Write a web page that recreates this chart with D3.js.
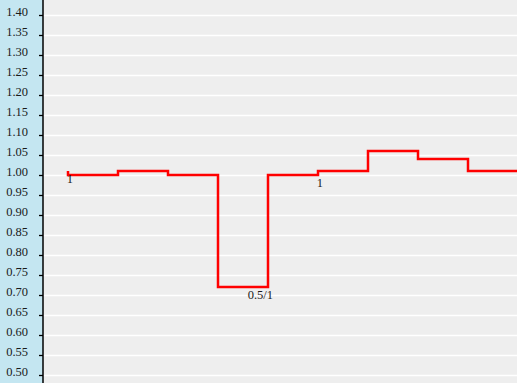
<!DOCTYPE html>
<html><head><meta charset="utf-8">
<script src="https://cdn.jsdelivr.net/npm/d3@7"></script>
<style>html,body{margin:0;padding:0;background:#eeeeee;}svg{display:block;}</style>
</head><body>
<svg id="c" width="517" height="383"></svg>
<script>
// data
const stepIndex = [0, 1, 2, 3, 4, 5, 6, 7, 8, 9];
const stepValues = [1.00, 1.01, 1.00, 0.72, 1.00, 1.01, 1.06, 1.04, 1.01, 1.01];
const startLevel = 1.01;
const yTicks = [0.50,0.55,0.60,0.65,0.70,0.75,0.80,0.85,0.90,0.95,1.00,1.05,1.10,1.15,1.20,1.25,1.30,1.35,1.40];
// labels placed at the step boundary i, under the level reached just before it
const pointLabels = [
  {i: 0, text: "1"},
  {i: 4, text: "0.5/1"},
  {i: 5, text: "1"}
];

const W = 517, H = 383;
const svg = d3.select("#c");
const axisX = 43;
const x = d3.scaleLinear().domain([0, 9]).range([68, 518]);
const y = d3.scaleLinear().domain([0.5, 1.4]).range([375, 15]);
const prevLevel = i => i === 0 ? startLevel : stepValues[i - 1];

svg.append("rect").attr("x",0).attr("y",0).attr("width",W).attr("height",H).attr("fill","#eeeeee");
svg.append("rect").attr("x",0).attr("y",0).attr("width",axisX).attr("height",H).attr("fill","#c4e6f1");

// grid
svg.append("g").selectAll("line").data(yTicks).join("line")
  .attr("x1", axisX).attr("x2", W)
  .attr("y1", d => Math.round(y(d)) + 0.5).attr("y2", d => Math.round(y(d)) + 0.5)
  .attr("stroke", "#ffffff").attr("stroke-width", 1.3);

// axis
const ax = d3.axisLeft(y).tickValues(yTicks).tickSize(4).tickPadding(11).tickFormat(d3.format(".2f"));
const g = svg.append("g").attr("transform", `translate(${axisX},0)`).call(ax);
g.select(".domain").remove();
g.selectAll(".tick line").attr("stroke", "#000").attr("stroke-width", 1.3);
g.selectAll(".tick text").attr("font-family", "'Liberation Serif','Times New Roman',serif")
  .attr("font-size", 12.5).attr("fill", "#1a1a1a").attr("dy", "0.05em");
svg.append("line").attr("x1", axisX).attr("x2", axisX).attr("y1", 0).attr("y2", H)
  .attr("stroke", "#000").attr("stroke-width", 1.5);

// step line
const pts = stepIndex.map((d, k) => [x(d), y(stepValues[k])]);
const line = d3.line().curve(d3.curveStepAfter);
const path = [[x(0), y(startLevel)]].concat(pts);
svg.append("path").attr("d", line(path)).attr("fill", "none")
  .attr("stroke", "#ff0000").attr("stroke-width", 2.5);

// labels
svg.append("g").selectAll("text").data(pointLabels).join("text")
  .attr("x", d => x(d.i) + 5).attr("y", d => y(prevLevel(d.i)) + 12)
  .attr("text-anchor", "end")
  .attr("font-family", "'Liberation Serif','Times New Roman',serif")
  .attr("font-size", 12.5).attr("fill", "#1a1a1a")
  .text(d => d.text);
</script>
</body></html>
